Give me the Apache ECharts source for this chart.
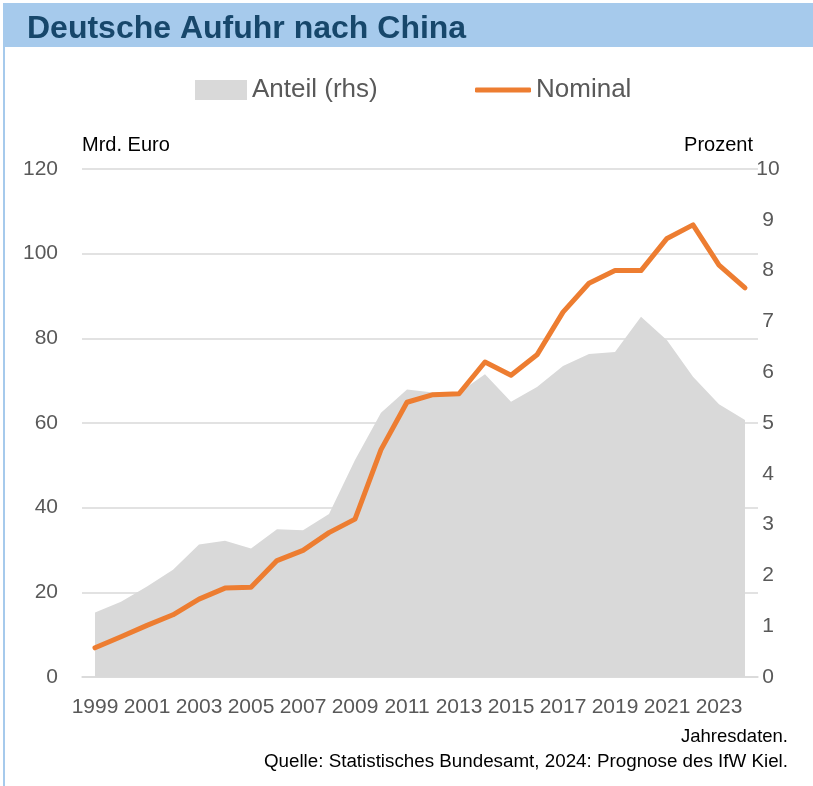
<!DOCTYPE html>
<html>
<head>
<meta charset="utf-8">
<script src="https://cdn.jsdelivr.net/npm/echarts@6/dist/echarts.min.js"></script>
<style>
  html, body { margin: 0; padding: 0; background: #fff; }
  #chartDom { width: 813px; height: 786px; }
</style>
</head>
<body>
<div id="chartDom"></div>
<script>
// data
var years = ['1999','2000','2001','2002','2003','2004','2005','2006','2007','2008','2009','2010','2011',
             '2012','2013','2014','2015','2016','2017','2018','2019','2020','2021','2022','2023','2024'];
// Mrd. Euro
var nominal = [6.9, 9.5, 12.2, 14.7, 18.4, 21.0, 21.2, 27.5, 29.9, 34.1, 37.3, 53.7, 64.9,
               66.7, 66.9, 74.4, 71.3, 76.1, 86.2, 93.0, 96.0, 96.0, 103.6, 106.8, 97.3, 91.9];
// Prozent (rhs)
var anteil = [1.27, 1.48, 1.78, 2.11, 2.61, 2.68, 2.53, 2.91, 2.89, 3.21, 4.27, 5.2, 5.66,
              5.6, 5.6, 5.96, 5.42, 5.71, 6.12, 6.36, 6.4, 7.09, 6.63, 5.91, 5.37, 5.06];

var font = 'Liberation Sans, Arial, sans-serif';

var myChart = echarts.init(document.getElementById('chartDom'));

var option = {
    animation: false,
    textStyle: { fontFamily: font },
    title: {
        text: 'Deutsche Aufuhr nach China',
        left: 22, top: 8,
        textStyle: { fontSize: 32, fontWeight: 'bold', color: '#17476b', fontFamily: font }
    },
    graphic: [
        { type: 'rect', z: -10, shape: { x: 4, y: 3, width: 809, height: 44 }, style: { fill: '#a6caec' } },
        { type: 'rect', z: -10, shape: { x: 3, y: 3, width: 2, height: 783 }, style: { fill: '#a6caec' } },
        { type: 'text', right: 25, top: 727,
          style: { text: 'Jahresdaten.', fontSize: 18.5, fill: '#000', fontFamily: font } },
        { type: 'text', right: 25, top: 752,
          style: { text: 'Quelle: Statistisches Bundesamt, 2024: Prognose des IfW Kiel.', fontSize: 18.8, fill: '#000', fontFamily: font } }
    ],
    legend: [
        {
            left: 190, top: 72,
            itemWidth: 52, itemHeight: 20,
            textStyle: { fontSize: 26, color: '#595959', fontFamily: font },
            data: [{ name: 'Anteil (rhs)', icon: 'rect' }]
        },
        {
            left: 470, top: 72,
            itemWidth: 56, itemHeight: 5,
            textStyle: { fontSize: 26, color: '#595959', fontFamily: font },
            data: [{ name: 'Nominal', icon: 'roundRect', itemStyle: { color: '#ed7d31' } }]
        }
    ],
    grid: { left: 82, right: 55, top: 169, bottom: 109, containLabel: false },
    xAxis: {
        type: 'category',
        data: years,
        boundaryGap: true,
        axisLine: { lineStyle: { color: '#d9d9d9', width: 1.5 } },
        axisTick: { show: false },
        axisLabel: { interval: 1, fontSize: 21, color: '#595959', margin: 20 }
    },
    yAxis: [
        {
            type: 'value', min: 0, max: 120, interval: 20,
            name: 'Mrd. Euro', nameLocation: 'end', nameGap: 14,
            nameTextStyle: { align: 'left', fontSize: 20, color: '#000' },
            axisLine: { show: false }, axisTick: { show: false },
            axisLabel: { fontSize: 21, color: '#595959', margin: 24 },
            splitLine: { lineStyle: { color: '#d9d9d9', width: 1.5 } }
        },
        {
            type: 'value', min: 0, max: 10, interval: 1,
            name: 'Prozent', nameLocation: 'end', nameGap: 14,
            nameTextStyle: { align: 'right', fontSize: 20, color: '#000', padding: [0, 5, 0, 0] },
            axisLine: { show: false }, axisTick: { show: false },
            axisLabel: { fontSize: 21, color: '#595959', margin: 10, align: 'center' },
            splitLine: { show: false }
        }
    ],
    series: [
        {
            name: 'Anteil (rhs)',
            type: 'line',
            yAxisIndex: 1,
            data: anteil,
            symbol: 'none',
            lineStyle: { width: 0, color: '#d9d9d9' },
            itemStyle: { color: '#d9d9d9' },
            areaStyle: { color: '#d9d9d9', opacity: 1 },
            z: 1
        },
        {
            name: 'Nominal',
            type: 'line',
            yAxisIndex: 0,
            data: nominal,
            symbol: 'none',
            lineStyle: { width: 5, color: '#ed7d31', cap: 'round', join: 'round' },
            itemStyle: { color: '#ed7d31' },
            z: 3
        }
    ]
};

myChart.setOption(option);
window.onresize = myChart.resize;
</script>
</body>
</html>
